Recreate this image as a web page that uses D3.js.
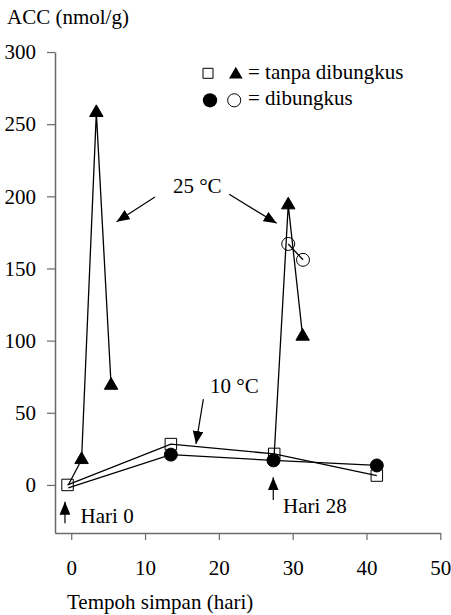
<!DOCTYPE html>
<html>
<head>
<meta charset="utf-8">
<script src="https://cdn.jsdelivr.net/npm/d3@7"></script>
<style>
  body { margin: 0; background: #fff; }
  text { font-family: "Liberation Serif", "Times New Roman", serif; fill: #000; }
</style>
</head>
<body>
<div id="chart"></div>
<script>
// data (hari, nmol/g)
// 10 °C, tanpa dibungkus (open square)
const squareDays = [-0.5, 13.5, 27.5, 41.4];
const squareVals = [0, 28.3, 21.5, 6.5];
// 10 °C, dibungkus (filled circle) - first point is the shared day-0 sample, no own marker
const circleDays = [-0.4, 13.5, 27.4, 41.4];
const circleVals = [-2, 21, 17, 13.5];
// 25 °C from day 0, tanpa dibungkus (filled triangle), starts at the day-0 sample
const triDaysA = [-0.4, 1.4, 3.4, 5.4];
const triValsA = [0, 17.5, 258, 69];
// 25 °C from day 28, tanpa dibungkus (filled triangle), starts at day-28 sample
const triDaysB = [27.5, 29.4, 31.35];
const triValsB = [21.5, 194, 103];
// 25 °C from day 28, dibungkus (open circle)
const openDays = [29.4, 31.4];
const openVals = [167, 156];

const xTicks = [0, 10, 20, 30, 40, 50];
const yTicks = [0, 50, 100, 150, 200, 250, 300];

const width = 451, height = 615;
const svg = d3.select("#chart").append("svg")
    .attr("width", width)
    .attr("height", height);

const x = d3.scaleLinear().domain([-2.2, 50]).range([55, 440.3]);
const y = d3.scaleLinear().domain([-33.3, 300]).range([533, 52]);

// arrowhead
svg.append("defs").append("marker")
    .attr("id", "head")
    .attr("viewBox", "0 0 12 10")
    .attr("refX", 12).attr("refY", 5)
    .attr("markerUnits", "userSpaceOnUse")
    .attr("markerWidth", 13).attr("markerHeight", 11)
    .attr("orient", "auto")
  .append("path")
    .attr("d", "M0,0 L12,5 L0,10 Z")
    .attr("fill", "#000");

// axes
const axisColor = "#6a6a6a";
const gx = svg.append("g")
    .attr("transform", `translate(0,${y(-33.3)})`)
    .call(d3.axisBottom(x).tickValues(xTicks).tickSize(7).tickPadding(20).tickSizeOuter(0));
const gy = svg.append("g")
    .attr("transform", `translate(${x(-2.2)},0)`)
    .call(d3.axisLeft(y).tickValues(yTicks).tickSize(8).tickPadding(11).tickSizeOuter(0));
[gx, gy].forEach(g => {
  g.select(".domain").attr("stroke", axisColor).attr("stroke-width", 1.5);
  g.selectAll(".tick line").attr("stroke", axisColor).attr("stroke-width", 1.2);
  g.selectAll(".tick text")
    .style("font-family", '"Liberation Serif", serif')
    .style("font-size", "21px")
    .attr("fill", "#000");
});

svg.append("text").attr("x", 7).attr("y", 24)
    .style("font-size", "21px").text("ACC (nmol/g)");
svg.append("text").attr("x", 67).attr("y", 609)
    .style("font-size", "21px").text("Tempoh simpan (hari)");

// lines
const line = d3.line().x(d => x(d[0])).y(d => y(d[1]));
const zip = (a, b) => a.map((d, i) => [d, b[i]]);
const series = [
  zip(squareDays, squareVals),
  zip(circleDays, circleVals),
  zip(triDaysA, triValsA),
  zip(triDaysB, triValsB),
  zip(openDays, openVals)
];
svg.append("g").selectAll("path").data(series).enter().append("path")
    .attr("d", line)
    .attr("fill", "none")
    .attr("stroke", "#000")
    .attr("stroke-width", 1.3);

// markers
function drawMarks(pts, type, size, filled) {
  svg.append("g").selectAll("path").data(pts).enter().append("path")
      .attr("transform", d => `translate(${x(d[0])},${y(d[1])})`)
      .attr("d", d3.symbol().type(type).size(size))
      .attr("fill", filled ? "#000" : "none")
      .attr("stroke", "#000")
      .attr("stroke-width", 1);
}
drawMarks(zip(squareDays, squareVals), d3.symbolSquare, 132, false);
drawMarks(zip(circleDays, circleVals).slice(1), d3.symbolCircle, 132, true);
drawMarks(zip(triDaysA, triValsA).slice(1), d3.symbolTriangle, 78, true);
drawMarks(zip(triDaysB, triValsB).slice(1), d3.symbolTriangle, 78, true);
drawMarks(zip(openDays, openVals), d3.symbolCircle, 132, false);

// annotations (in data units)
const arrows = [
  [[11.34, 199.5], [6.15, 182.4]],
  [[21.4, 201.4], [27.83, 181.3]],
  [[17.9, 59.4], [16.9, 28.4]],
  [[-0.85, -26.5], [-0.85, -11.6]],
  [[27.37, -10.4], [27.37, 5.3]]
];
svg.append("g").selectAll("line").data(arrows).enter().append("line")
    .attr("x1", d => x(d[0][0])).attr("y1", d => y(d[0][1]))
    .attr("x2", d => x(d[1][0])).attr("y2", d => y(d[1][1]))
    .attr("stroke", "#000").attr("stroke-width", 1.2)
    .attr("marker-end", "url(#head)");

const notes = [
  {t: "25 °C", d: 13.77, v: 202.3},
  {t: "10 °C", d: 18.8, v: 63.5},
  {t: "Hari 0", d: 1.27, v: -26.3},
  {t: "Hari 28", d: 28.7, v: -19.6}
];
svg.append("g").selectAll("text").data(notes).enter().append("text")
    .attr("x", d => x(d.d)).attr("y", d => y(d.v))
    .style("font-size", "21px")
    .text(d => d.t);

// legend
const lg = svg.append("g");
lg.append("path").attr("transform", "translate(208,73.3)")
    .attr("d", d3.symbol().type(d3.symbolSquare).size(100))
    .attr("fill", "none").attr("stroke", "#000");
lg.append("path").attr("transform", "translate(235.8,74.5)")
    .attr("d", d3.symbol().type(d3.symbolTriangle).size(80))
    .attr("fill", "#000");
lg.append("text").attr("x", 248).attr("y", 79).style("font-size", "21px").text("= tanpa dibungkus");
lg.append("path").attr("transform", "translate(210,100.3)")
    .attr("d", d3.symbol().type(d3.symbolCircle).size(160))
    .attr("fill", "#000");
lg.append("path").attr("transform", "translate(234.2,100.3)")
    .attr("d", d3.symbol().type(d3.symbolCircle).size(135))
    .attr("fill", "none").attr("stroke", "#000");
lg.append("text").attr("x", 248).attr("y", 105).style("font-size", "21px").text("= dibungkus");
</script>
</body>
</html>
